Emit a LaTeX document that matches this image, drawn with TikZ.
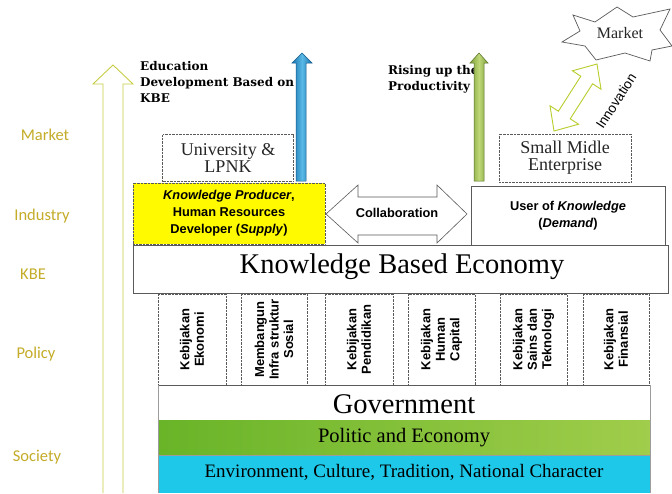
\documentclass[tikz,border=0pt]{standalone}
\usepackage{fontspec}
\setmainfont{Liberation Serif}
\setsansfont{Liberation Sans}
\newfontfamily\calib{Carlito}
\newfontfamily\dvserif{DejaVu Serif}
\definecolor{labelgold}{RGB}{196,172,40}
\definecolor{arrowlime}{RGB}{200,205,70}
\definecolor{innolime}{RGB}{185,205,45}
\definecolor{boxline}{RGB}{90,90,90}
\definecolor{blueA}{RGB}{25,115,175}
\definecolor{blueB}{RGB}{90,185,230}
\definecolor{greenA}{RGB}{125,160,55}
\definecolor{greenB}{RGB}{190,215,120}
\definecolor{bandgreenA}{RGB}{105,180,40}
\definecolor{bandgreenB}{RGB}{160,205,75}
\definecolor{bandcyan}{RGB}{30,200,232}
\definecolor{yel}{RGB}{255,250,0}
\begin{document}
\begin{tikzpicture}[x=1pt,y=-1pt,
  sidelabel/.style={font=\calib\fontsize{16.5}{18}\selectfont, text=labelgold},
  dotbox/.style={draw=boxline, densely dotted, fill=white, inner sep=0pt},
  solidbox/.style={draw=boxline, fill=white, inner sep=0pt},
  policybox/.style={dotbox, rotate=90, minimum width=91pt, align=center,
    font=\sffamily\bfseries\fontsize{13}{14.5}\selectfont},
  sanstext/.style={font=\sffamily\bfseries\fontsize{12.8}{17}\selectfont, align=center},
  headtext/.style={font=\dvserif\bfseries\fontsize{12}{16}\selectfont, align=left, anchor=west, inner sep=0pt},
  bigserif/.style={font=\fontsize{#1}{#1}\selectfont}
]
\useasboundingbox (0,0) rectangle (672,493);
\fill[white] (0,0) rectangle (672,493);

% big left arrow
\draw[arrowlime, line width=0.9pt, fill=white] (103,493) -- (103,84) -- (93,84) -- (113,65) -- (133,84) -- (123,84) -- (123,493);

% side labels
\node[sidelabel] (lmarket) at (45,135) {Market};
\node[sidelabel] (lindustry) at (42,216) {Industry};
\node[sidelabel] (lkbe) at (33,274) {KBE};
\node[sidelabel] (lpolicy) at (36,354) {Policy};
\node[sidelabel] (lsociety) at (37,457) {Society};

% headings
\node[headtext] (edu) at (140,82) {Education\\Development Based on\\KBE};
\node[headtext] (rise) at (388,79) {Rising up the\\Productivity};

% blue and green arrows
\shade[left color=blueA, right color=blueA, middle color=blueB, draw=blueA!80!black, line width=0.5pt]
  (296,181) -- (296,63) -- (292,63) -- (302,53) -- (312,63) -- (306,63) -- (306,181) -- cycle;
\shade[left color=greenA, right color=greenA, middle color=greenB, draw=greenA!70!black, line width=0.5pt]
  (474,181) -- (474,63) -- (470,63) -- (479,53) -- (488,63) -- (484,63) -- (484,181) -- cycle;

% upper boxes
\node[dotbox, minimum width=131pt, minimum height=47pt, align=center, bigserif=18, text=black!85] (univ) at (228,158) {University \&\\[-1pt]LPNK};
\node[dotbox, minimum width=132pt, minimum height=48pt, align=center, bigserif=18, text=black!85] (sme) at (565,158) {Small Midle\\[-1pt]Enterprise};

% producer and user
\node[draw=boxline, densely dotted, fill=yel, inner sep=0pt, minimum width=192pt, minimum height=61pt, sanstext] (prod) at (229,213.5)
  {\textit{Knowledge Producer},\\Human Resources\\Developer (\textit{Supply})};
\node[solidbox, minimum width=194pt, minimum height=60pt, sanstext] (user) at (568,216)
  {User of \textit{Knowledge}\\(\textit{Demand})};

% collaboration double arrow
\draw[boxline, line width=0.6pt, fill=white] (326,214) -- (358,185) -- (358,197) -- (437,197) -- (437,185) -- (467,214) -- (437,243) -- (437,235) -- (358,235) -- (358,243) -- cycle;
\node[sanstext] (collab) at (397,213) {Collaboration};

% KBE
\node[solidbox, minimum width=535pt, minimum height=48pt] (kbe) at (400.5,269) {};
\node[bigserif=28.5] (kbetext) at (402,267) {Knowledge Based Economy};

% policy boxes
\node[policybox, minimum height=68pt] (p1) at (192,339.5) {Kebijakan\\Ekonomi};
\node[policybox, minimum height=66pt] (p2) at (274,339.5) {Membangun\\Infra struktur\\Sosial};
\node[policybox, minimum height=68pt] (p3) at (359,339.5) {Kebijakan\\Pendidikan};
\node[policybox, minimum height=67pt] (p4) at (441.5,339.5) {Kebijakan\\Human\\Capital};
\node[policybox, minimum height=67pt] (p5) at (533.5,339.5) {Kebijakan\\Sains dan\\Teknologi};
\node[policybox, minimum height=66pt] (p6) at (616,339.5) {Kebijakan\\Finansial};

% society bands
\node[solidbox, minimum width=492pt, minimum height=35pt] (gov) at (404,402.5) {};
\node[bigserif=28.5] (govtext) at (404,404) {Government};
\shade[left color=bandgreenA, right color=bandgreenB] (158,420) rectangle (650,455);
\node[bigserif=20.5] (pol) at (404,437.5) {Politic and Economy};
\fill[bandcyan] (158,455) rectangle (650,493);
\draw[boxline!60, line width=0.5pt] (158,455) -- (650,455);
\draw[boxline!60, line width=0.5pt] (158,385) -- (158,493) (650,385) -- (650,493);
\node[bigserif=19] (env) at (404,472) {Environment, Culture, Tradition, National Character};

% market star
\draw[boxline, line width=0.7pt, fill=white] (573,15) -- (595,22) -- (617,7) -- (633,17) -- (670,9) -- (660,30) -- (672,46) -- (652,50) -- (650,61) -- (625,53) -- (596,60) -- (585,46) -- (562,42) -- (580,31) -- cycle;
\node[bigserif=16, text=black!85] (market) at (620,33) {Market};

% innovation double arrow
\draw[innolime, line width=0.9pt, fill=white] (597,64) -- (601,89.2) -- (592.6,83.8) -- (570.2,118.8) -- (578.6,124.2) -- (554,131) -- (550,105.8) -- (558.4,111.2) -- (580.8,76.2) -- (572.4,70.8) -- cycle;
\node[rotate=57, font=\sffamily\fontsize{13.5}{14}\selectfont, inner sep=0pt] (innov) at (616,101) {Innovation};
\end{tikzpicture}
\end{document}
